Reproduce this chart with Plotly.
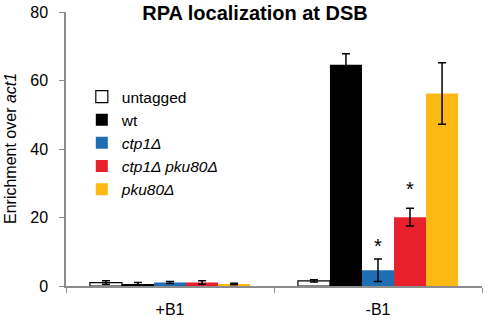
import plotly.graph_objects as go

categories = ["+B1", "-B1"]
series_names = ["untagged", "wt", "<i>ctp1Δ</i>", "<i>ctp1Δ pku80Δ</i>", "<i>pku80Δ</i>"]
untagged = [1.0, 1.5]
wt = [0.6, 64.6]
ctp1 = [1.0, 4.6]
ctp1_pku80 = [1.0, 20.1]
pku80 = [0.6, 56.2]
untagged_err = [0.5, 0.3]
wt_err = [0.4, 3.2]
ctp1_err = [0.3, 3.3]
ctp1_pku80_err = [0.5, 2.6]
pku80_err = [0.2, 9.0]
star_y = [None, None, 11.8, 28.3, None]
y_ticks = [0, 20, 40, 60, 80]

values = [untagged, wt, ctp1, ctp1_pku80, pku80]
errors = [untagged_err, wt_err, ctp1_err, ctp1_pku80_err, pku80_err]
colors = ["#FFFFFF", "#000000", "#1F6EB5", "#E8202B", "#FDB913"]
lines = ["#000000", "#000000", "#1F6EB5", "#E8202B", "#FDB913"]
line_w = [1.2, 0, 0, 0, 0]

fig = go.Figure()
for i in range(5):
    fig.add_trace(go.Bar(
        x=categories, y=values[i], name=series_names[i],
        marker=dict(color=colors[i], line=dict(color=lines[i], width=line_w[i])),
        error_y=dict(type="data", array=errors[i], color="#000000", thickness=1.5, width=4),
    ))

offsets = [-2, -1, 0, 1, 2]
for i in range(5):
    if star_y[i] is not None:
        fig.add_annotation(x=categories[1], y=star_y[i], text="*", showarrow=False,
                           xshift=offsets[i] * 32, font=dict(size=20, color="#000"),
                           yanchor="middle")

fig.add_annotation(text="Enrichment over <i>act1</i>", textangle=-90,
                   xref="paper", yref="paper", x=(10 - 66) / 416, y=0.5,
                   xanchor="center", yanchor="middle", showarrow=False,
                   font=dict(size=16, color="#000"))

fig.update_layout(
    width=488, height=325,
    margin=dict(l=66, r=6, t=12, b=39),
    paper_bgcolor="white", plot_bgcolor="white",
    barmode="group", bargap=0.23, bargroupgap=0,
    font=dict(family="Liberation Sans, Arial, sans-serif", size=16, color="#000"),
    title=dict(text="<b>RPA localization at DSB</b>", x=255 / 488, xanchor="center",
               y=1 - 13 / 325, yanchor="middle", yref="container",
               font=dict(size=20, color="#000")),
    showlegend=True,
    legend=dict(x=0.038, y=0.752, xanchor="left", yanchor="top", bgcolor="rgba(0,0,0,0)",
                font=dict(size=15.5), tracegroupgap=0, itemwidth=30),
)
fig.update_xaxes(showline=True, linecolor="#8C8C8C", linewidth=1.5,
                 ticks="outside", tickson="boundaries", ticklen=5, tickcolor="#8C8C8C",
                 ticklabelstandoff=8, showgrid=False, range=[-0.5, 1.5], automargin=False,
                 tickfont=dict(size=16))
fig.update_yaxes(range=[0, 80], tickvals=y_ticks, showline=True,
                 linecolor="#8C8C8C", linewidth=1.5, ticks="outside", ticklen=5,
                 tickcolor="#8C8C8C", showgrid=False, zeroline=False, automargin=False,
                 ticklabelstandoff=8, tickfont=dict(size=16))

fig.write_html("out.html", config={"displayModeBar": False},
               post_script="document.body.style.margin='0';document.body.style.overflow='hidden';")
